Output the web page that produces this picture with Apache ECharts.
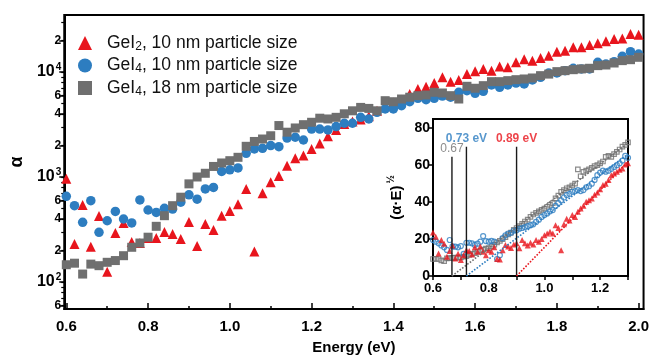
<!DOCTYPE html>
<html>
<head>
<meta charset="utf-8">
<script src="https://cdn.jsdelivr.net/npm/echarts@6/dist/echarts.min.js"></script>
<style>
  html, body { margin: 0; padding: 0; background: #fff; }
  #main { width: 652px; height: 360px; }
</style>
</head>
<body>
<div id="main"></div>
<script>
// main plot: absorption coefficient vs photon energy
const energy = [0.60,0.62,0.64,0.66,0.68,0.70,0.72,0.74,0.76,0.78,0.80,0.82,0.84,0.86,0.88,0.90,0.92,0.94,0.96,0.98,
  1.00,1.02,1.04,1.06,1.08,1.10,1.12,1.14,1.16,1.18,1.20,1.22,1.24,1.26,1.28,1.30,1.32,1.34,1.36,1.38,
  1.40,1.42,1.44,1.46,1.48,1.50,1.52,1.54,1.56,1.58,1.60,1.62,1.64,1.66,1.68,1.70,1.72,1.74,1.76,1.78,
  1.80,1.82,1.84,1.86,1.88,1.90,1.92,1.94,1.96,1.98,2.00];
const gei2_10nm = [960,230,540,217,425,125,293,365,240,235, 262,263,300,287,257,372,220,357,313,428,
  475,550,770,195,700,890,1020,1280,1510,1600, 1850,2090,2440,2800,3200,3370,3520,3790,4270,4710,
  5130,5450,6180,6890,7250,7850,8900,8090,8400,9550, 10160,10700,10300,11300,11080,12370,13200,12830,13600,14300,
  15600,15950,17200,17200,18100,18750,19600,20600,20900,23000,22600];
const gei4_10nm = [655,533,370,595,297,383,470,398,365,605, 485,460,503,495,575,677,615,770,795,1130,
  1170,1220,1680,1850,1875,1990,1945,2350,2390,2250, 2860,2860,2810,3020,3250,3250,3700,3570,4130,4450,
  4450,4780,5210,5620,5450,5620,5900,5760,6410,6640, 6260,6550,7520,7140,7520,7850,7690,8400,8900,9780,
  9780,10300,10850,10700,10700,12370,11900,12540,14100,15600,14830];
const gei4_18nm = [146,151,119,148,143,154,160,178,214,235, 267,339,428,533,642,860,1000,1085,1260,1360,
  1430,1540,1960,2180,2300,2470,3090,2670,2930,3150, 3320,3630,3570,3700,4000,4270,4600,4500,4270,5330,
  5210,5530,5750,5950,6040,6410,6310,5950,5530,7310, 7000,7410,8090,8090,8270,8450,8580,8770,9230,9550,
  10080,10300,10520,10700,10850,11500,11660,12180,12830,13100,13800];

const xTicks = [0.6,0.8,1.0,1.2,1.4,1.6,1.8,2.0];
const xMinorTicks = [0.7,0.9,1.1,1.3,1.5,1.7,1.9];
const yLabelTicks = [60,100,200,400,600,1000,2000,4000,6000,10000,20000];
const yMinorTicks = [60,70,80,90,100,200,300,400,500,600,700,800,900,1000,2000,3000,4000,5000,6000,7000,8000,9000,10000,20000,30000];

// inset: (alpha*E)^1/2 vs energy
const insetEnergy = [0.60,0.61,0.62,0.63,0.64,0.65,0.66,0.67,0.68,0.69,0.70,0.71,0.72,0.73,0.74,0.75,0.76,0.77,0.78,0.79,
  0.80,0.81,0.82,0.83,0.84,0.85,0.86,0.87,0.88,0.89,0.90,0.91,0.92,0.93,0.94,0.95,0.96,0.97,0.98,0.99,
  1.00,1.01,1.02,1.03,1.04,1.05,1.06,1.07,1.08,1.09,1.10,1.11,1.12,1.13,1.14,1.15,1.16,1.17,1.18,1.19,
  1.20,1.21,1.22,1.23,1.24,1.25,1.26,1.27,1.28,1.29,1.30];
const insetGray = [9.2,9.3,9.2,8.5,8.1,9.5,9.7,9.8,10,10, 10.1,10.5,10.8,11.4,12,12.4,13.2,13.8,14.3,14.8,
  15.1,16,17,18.2,19,20,21,22.5,23.5,25, 26,27,28.2,29.5,30.5,32,33.3,34.2,35,35.8,
  36.5,37.5,38.5,39.5,42,43.5,45.5,46.5,47.5,48, 49,50,57.7,54,56.4,57,57.7,58.5,59.5,60,
  61,62,64.5,65,64.5,66,67.2,68.5,70,71,72.3];
const insetBlue = [19.5,18.6,17.7,16.5,15.5,14.1,19.5,16,15.9,15.5, 16.2,12,18,18,17.7,16.8,17.5,18.6,21.6,18.9,
  18.6,19,18.6,9.2,11.3,20.5,22,23,23.4,24.5, 24.8,25.6,26,26.5,27,27.5,28,29.3,30.5,32,
  33,33.9,35,35.7,38,39.5,41,42.5,43.8,44.5, 45.6,46,46.5,46,46.5,48,48.6,50,52,54.6,
  56,57,56.5,57,58,59,60,61,62.5,65,64];
const insetRed = [23.6,21.3,12.2,19.5,17.5,10.4,13.5,16.5,9.5,12, 8.6,11.3,14.1,13.5,11.7,15.5,13.1,16,13.1,11.3,
  14,13.1,15.5,9.2,9,14,16.8,16,15.1,17, 17.7,15,19.5,17.7,16.5,18,17,19.5,18.5,20,
  22,23,24,23,27.5,26,14,28,31,30, 33,32,34.8,36.6,38,40.2,41,42,44,45.2,
  47,49.2,50,52,54.6,55.5,56.4,57.5,58.2,60.4,61];

// band-gap markers in the inset (gray, blue, red)
const gapEnergy = [0.668, 0.72, 0.90];
const gapLineTop = [64.5, 70, 70];
const gapLabel = ['0.67', '0.73 eV', '0.89 eV'];
const fitEndEnergy = 1.30;
const fitEndValue = [72, 66, 62];

const RED = '#e8151d', BLUE = '#2d7dc0', GRAY = '#6f6f6f';
const FONT = 'Liberation Sans, Arial, sans-serif';

const zip = (xs, ys) => xs.map((x, i) => [x, ys[i]]);

function logLabel(v) {
    const e = Math.log10(v);
    const r = Math.round(e);
    if (Math.abs(e - r) < 1e-6) return '{t|10}{s|' + r + '}';
    return '{d|' + Math.round(v / Math.pow(10, Math.floor(e + 1e-9))) + '}';
}

const chart = echarts.init(document.getElementById('main'));
const gapColors = [GRAY, BLUE, RED];

const gapSeries = [];
gapEnergy.forEach((g, i) => {
    gapSeries.push({
        type: 'line', xAxisIndex: 2, yAxisIndex: 2, symbol: 'none', silent: true,
        lineStyle: { color: '#1a1a1a', width: 1.4 },
        data: [[g, 0], [g, gapLineTop[i]]], z: 6
    });
    gapSeries.push({
        type: 'line', xAxisIndex: 2, yAxisIndex: 2, symbol: 'none', silent: true,
        lineStyle: { color: gapColors[i], width: 1.6, type: 'dotted' },
        data: [[g, 0], [fitEndEnergy, fitEndValue[i]]], z: 6
    });
    gapSeries.push({
        type: 'scatter', xAxisIndex: 2, yAxisIndex: 2, symbolSize: 1, silent: true,
        itemStyle: { color: 'transparent' },
        label: {
            show: true, position: 'top', distance: 2, formatter: gapLabel[i],
            color: gapColors[i], fontSize: 12, fontFamily: FONT,
            fontWeight: i === 0 ? 'normal' : 'bold'
        },
        data: [[g, gapLineTop[i]]], z: 7
    });
});

const option = {
    animation: false,
    backgroundColor: '#fff',
    grid: [
        { left: 55, right: 6, top: 15, bottom: 50, show: true, borderColor: '#000', borderWidth: 2, backgroundColor: 'transparent' },
        { left: 433, top: 119, width: 195, height: 157, show: true, borderColor: '#000', borderWidth: 2, backgroundColor: '#fff', z: 4 }
    ],
    legend: {
        orient: 'vertical', left: 73, top: 29, itemWidth: 14, itemHeight: 14, itemGap: 4,
        data: [
            { name: 'gei2_10', icon: 'triangle' },
            { name: 'gei4_10', icon: 'circle' },
            { name: 'gei4_18', icon: 'rect' }
        ],
        formatter: (name) => ({
            gei2_10: '{n|GeI}{sub|2}{n|, 10 nm particle size}',
            gei4_10: '{n|GeI}{sub|4}{n|, 10 nm particle size}',
            gei4_18: '{n|GeI}{sub|4}{n|, 18 nm particle size}'
        })[name],
        textStyle: {
            padding: [0, 0, 0, 10],
            rich: {
                n: { fontSize: 17.5, fontFamily: FONT, color: '#111', lineHeight: 19 },
                sub: { fontSize: 12, fontFamily: FONT, color: '#111', padding: [7, 0, 0, 0] }
            }
        }
    },
    xAxis: [
        {
            type: 'value', gridIndex: 0, min: 0.595, max: 2.012, position: 'bottom',
            name: 'Energy (eV)', nameLocation: 'middle', nameGap: 31,
            nameTextStyle: { fontSize: 15, fontWeight: 'bold', fontFamily: FONT, color: '#000' },
            axisLine: { lineStyle: { color: '#000', width: 2 } },
            axisTick: { inside: true, length: 6, customValues: xTicks, lineStyle: { color: '#000', width: 1.5 } },
            axisLabel: { customValues: xTicks, formatter: (v) => v.toFixed(1), fontSize: 15, fontWeight: 'bold', fontFamily: FONT, color: '#000', margin: 10 },
            splitLine: { show: false }
        },
        {
            type: 'value', gridIndex: 0, min: 0.595, max: 2.012, position: 'bottom',
            axisLine: { show: false },
            axisTick: { inside: true, length: 3, customValues: xMinorTicks, lineStyle: { color: '#000', width: 1.5 } },
            axisLabel: { show: false },
            splitLine: { show: false }
        },
        {
            type: 'value', gridIndex: 1, min: 0.6, max: 1.3, interval: 0.1, position: 'bottom',
            axisLine: { lineStyle: { color: '#000', width: 2 } },
            axisTick: { length: 4, lineStyle: { color: '#000', width: 1.5 } },
            axisLabel: { customValues: [0.6, 0.8, 1.0, 1.2], formatter: (v) => v.toFixed(1), fontSize: 13, fontWeight: 'bold', fontFamily: FONT, color: '#000', margin: 6 },
            splitLine: { show: false }
        }
    ],
    yAxis: [
        {
            type: 'log', gridIndex: 0, logBase: 10, min: 55.3, max: 34900, position: 'left',
            name: 'α', nameLocation: 'middle', nameGap: 38, nameRotate: 90,
            nameTextStyle: { fontSize: 18, fontWeight: 'bold', fontFamily: FONT, color: '#000' },
            axisLine: { lineStyle: { color: '#000', width: 2 } },
            axisTick: { length: 5, customValues: yLabelTicks, lineStyle: { color: '#000', width: 1.5 } },
            axisLabel: {
                customValues: yLabelTicks, formatter: logLabel, margin: 3,
                rich: {
                    d: { fontSize: 12, fontWeight: 'bold', fontFamily: FONT, color: '#000' },
                    t: { fontSize: 16, fontWeight: 'bold', fontFamily: FONT, color: '#000' },
                    s: { fontSize: 10, fontWeight: 'bold', fontFamily: FONT, color: '#000', padding: [0, 0, 9, 1] }
                }
            },
            splitLine: { show: false }
        },
        {
            type: 'log', gridIndex: 0, logBase: 10, min: 55.3, max: 34900, position: 'left',
            axisLine: { show: false },
            axisTick: { length: 3, customValues: yMinorTicks, lineStyle: { color: '#000', width: 1.2 } },
            axisLabel: { show: false },
            splitLine: { show: false }
        },
        {
            type: 'value', gridIndex: 1, min: 0, max: 85, position: 'left',
            name: '{a|(α·E)}{s|½}', nameLocation: 'middle', nameGap: 25, nameRotate: 90,
            nameTextStyle: {
                rich: {
                    a: { fontSize: 15, fontWeight: 'bold', fontFamily: FONT, color: '#000' },
                    s: { fontSize: 10, fontWeight: 'bold', fontFamily: FONT, color: '#000', padding: [0, 0, 12, 2] }
                }
            },
            axisLine: { lineStyle: { color: '#000', width: 2 } },
            axisTick: { length: 5, customValues: [0, 20, 40, 60, 80], lineStyle: { color: '#000', width: 1.5 } },
            axisLabel: { customValues: [0, 20, 40, 60, 80], fontSize: 14, fontWeight: 'bold', fontFamily: FONT, color: '#000', margin: 3 },
            splitLine: { show: false }
        }
    ],
    series: [
        {
            name: 'gei2_10', type: 'scatter', xAxisIndex: 0, yAxisIndex: 0,
            symbol: 'triangle', symbolSize: 10, itemStyle: { color: RED, opacity: 1 },
            data: zip(energy, gei2_10nm)
        },
        {
            name: 'gei4_10', type: 'scatter', xAxisIndex: 0, yAxisIndex: 0,
            symbol: 'circle', symbolSize: 9.5, itemStyle: { color: BLUE, opacity: 1 },
            data: zip(energy, gei4_10nm)
        },
        {
            name: 'gei4_18', type: 'scatter', xAxisIndex: 0, yAxisIndex: 0,
            symbol: 'rect', symbolSize: 9, itemStyle: { color: GRAY, opacity: 1 },
            data: zip(energy, gei4_18nm)
        },
        {
            name: 'inset_gray', type: 'scatter', xAxisIndex: 2, yAxisIndex: 2, z: 5,
            symbol: 'rect', symbolSize: 4.5,
            itemStyle: { color: 'transparent', borderColor: GRAY, borderWidth: 1.2 },
            data: zip(insetEnergy, insetGray)
        },
        {
            name: 'inset_blue', type: 'scatter', xAxisIndex: 2, yAxisIndex: 2, z: 5,
            symbol: 'circle', symbolSize: 5,
            itemStyle: { color: 'transparent', borderColor: BLUE, borderWidth: 1.2 },
            data: zip(insetEnergy, insetBlue)
        },
        {
            name: 'inset_red', type: 'scatter', xAxisIndex: 2, yAxisIndex: 2, z: 5,
            symbol: 'triangle', symbolSize: 6, itemStyle: { color: RED },
            data: zip(insetEnergy, insetRed)
        }
    ].concat(gapSeries)
};

chart.setOption(option);
</script>
</body>
</html>
